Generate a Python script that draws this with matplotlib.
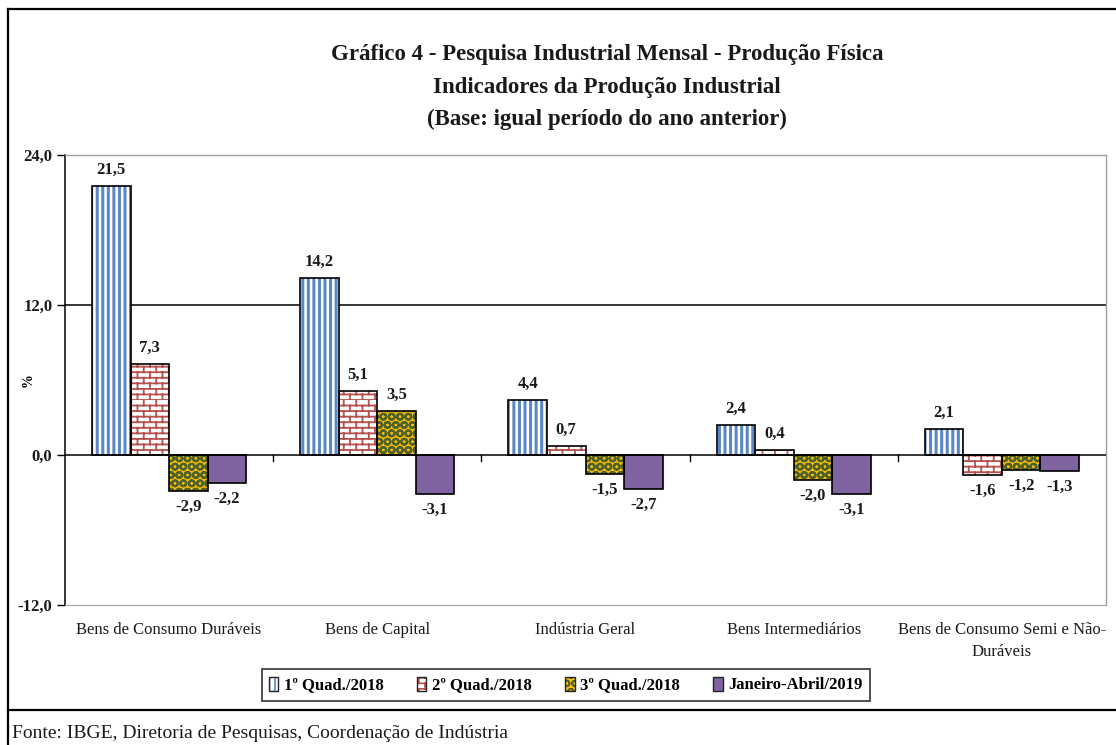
import warnings
warnings.filterwarnings("ignore")
import numpy as np
import matplotlib
matplotlib.use("Agg")
import matplotlib.pyplot as plt
import matplotlib.hatch as mhatch
from matplotlib.path import Path
from matplotlib.lines import Line2D
from matplotlib.patches import Patch, Rectangle
from matplotlib.legend_handler import HandlerBase
import matplotlib.transforms as mtrans

# ---------------- data ----------------
categories = ["Bens de Consumo Duráveis", "Bens de Capital", "Indústria Geral",
              "Bens Intermediários", "Bens de Consumo Semi e Não-\nDuráveis"]
series_names = ["1º Quad./2018", "2º Quad./2018", "3º Quad./2018", "Janeiro-Abril/2019"]
q1_2018 = [21.5, 14.2, 4.4, 2.4, 2.1]
q2_2018 = [7.3, 5.1, 0.7, 0.4, -1.6]
q3_2018 = [-2.9, 3.5, -1.5, -2.0, -1.2]
jan_abr_2019 = [-2.2, -3.1, -2.7, -3.1, -1.3]
y_ticks = [-12.0, 0.0, 12.0, 24.0]
title = ("Gráfico 4 - Pesquisa Industrial Mensal - Produção Física\n"
         "Indicadores da Produção Industrial\n"
         "(Base: igual período do ano anterior)")
source = "Fonte: IBGE, Diretoria de Pesquisas, Coordenação de Indústria"


# ---------------- custom brick hatch ----------------
class BrickHatch(mhatch.HatchPatternBase):
    def __init__(self, hatch, density):
        self.on = hatch.count('b') > 0
        self.rows = 18
        self.cols = 8
        if self.on:
            self.num_vertices = (self.rows + self.rows * self.cols) * 2
        else:
            self.num_vertices = 0

    def set_vertices_and_codes(self, vertices, codes):
        R, C = self.rows, self.cols
        i = 0
        for r in range(R):
            y = r / R
            vertices[i] = (0.0, y); codes[i] = Path.MOVETO; i += 1
            vertices[i] = (1.0, y); codes[i] = Path.LINETO; i += 1
        for r in range(R):
            y0, y1 = r / R, (r + 1) / R
            off = 0.5 * (r % 2)
            for c in range(C):
                x = ((c + off) / C) % 1.0
                vertices[i] = (x, y0); codes[i] = Path.MOVETO; i += 1
                vertices[i] = (x, y1); codes[i] = Path.LINETO; i += 1


mhatch._hatch_types.append(BrickHatch)


class HandlerHatchBox(HandlerBase):
    def create_artists(self, legend, orig_handle, xdescent, ydescent, width, height,
                       fontsize, trans):
        fill = Rectangle((-xdescent, -ydescent), width, height,
                         facecolor=orig_handle.get_facecolor(),
                         edgecolor=orig_handle.get_edgecolor(),
                         hatch=orig_handle.get_hatch(), linewidth=0, transform=trans)
        if hasattr(fill, "set_hatch_linewidth"):
            fill.set_hatch_linewidth(1.2)
        edge = Rectangle((-xdescent, -ydescent), width, height, facecolor="none",
                         edgecolor="#222222", linewidth=1.0, transform=trans)
        return [fill, edge]


# ---------------- styles ----------------
faces = ["white", "white", "#FFC000", "#8064A2"]
hatch_cols = ["#5A87C5", "#B5504D", "#4F6228", "#8064A2"]
hatches = ["|||", "b", "OO", None]
hatch_lws = [2.2, 1.3, 1.6, 1.0]

serif = ["Liberation Serif", "DejaVu Serif"]
plt.rcParams["font.family"] = serif

W, H = 1116, 745
fig = plt.figure(figsize=(W / 100, H / 100), dpi=100)
fig.patch.set_facecolor("white")

ax_l, ax_r, ax_t, ax_b = 65, 1106, 155, 605
ax = fig.add_axes([ax_l / W, 1 - ax_b / H, (ax_r - ax_l) / W, (ax_b - ax_t) / H])

x = np.arange(len(categories))
bw = 0.185
all_series = [q1_2018, q2_2018, q3_2018, jan_abr_2019]

handles = []
for k, vals in enumerate(all_series):
    xs = x + (k - 1.5) * bw
    bars = ax.bar(xs, vals, width=bw, color=faces[k], edgecolor=hatch_cols[k],
                  linewidth=0, hatch=hatches[k], zorder=3)
    for b in bars:
        if hasattr(b, "set_hatch_linewidth"):
            b.set_hatch_linewidth(hatch_lws[k])
    ax.bar(xs, vals, width=bw, facecolor="none", edgecolor="black",
           linewidth=1.2, zorder=4)
    handles.append(Patch(facecolor=faces[k], edgecolor=hatch_cols[k], hatch=hatches[k]))
    for xi, v in zip(xs, vals):
        lab = f"{v:.1f}".replace(".", ",")
        off = 11.5 if v >= 0 else -11.5
        ax.annotate(lab, (xi, v), xytext=(0, off), textcoords="offset points",
                    ha="center", va="center", fontsize=12, fontweight="bold",
                    color="#1a1a1a", zorder=5)

ax.set_xlim(-0.5, len(categories) - 0.5)
ax.set_ylim(-12, 24)
ax.set_yticks(y_ticks)
ax.set_yticklabels([f"{t:.1f}".replace(".", ",") for t in y_ticks],
                   fontsize=12, fontweight="bold", color="#1a1a1a")
ax.tick_params(axis="y", direction="out", length=6, width=1, pad=3)
ax.set_ylabel("%", fontsize=10, fontweight="bold")
ax.yaxis.set_label_coords((35 - ax_l) / (ax_r - ax_l), 0.5)

# gridlines
ax.axhline(12, color="black", linewidth=1.1, zorder=1)
ax.axhline(0, color="black", linewidth=1.1, zorder=5)

for s in ["top", "right"]:
    ax.spines[s].set_color("#A0A0A0")
    ax.spines[s].set_linewidth(1.0)
ax.spines["bottom"].set_color("#A0A0A0")
ax.spines["left"].set_color("black")
ax.spines["left"].set_linewidth(1.1)

# category separator ticks on zero line
ax.set_xticks([])
for b in np.arange(0.5, len(categories) - 0.5, 1.0):
    ax.plot([b, b], [0, -0.45], color="black", linewidth=1, zorder=5, clip_on=False)

# category labels
trans = mtrans.blended_transform_factory(ax.transData, ax.transAxes)
for xi, c in zip(x, categories):
    ax.annotate(c, (xi, 0), xycoords=trans, xytext=(0, -12), textcoords="offset points",
                ha="center", va="top", fontsize=12, linespacing=1.5, color="#1a1a1a")

# title
fig.text(607 / W, 1 - 44 / H, title, ha="center", va="top", fontsize=16.5,
         fontweight="bold", linespacing=1.72, color="#1a1a1a")

# legend
leg = fig.legend(handles, series_names, loc="center", bbox_to_anchor=(566 / W, 1 - 685 / H),
                 ncol=4, frameon=True, fancybox=False, edgecolor="black",
                 handlelength=0.55, handleheight=0.95, handletextpad=0.35,
                 columnspacing=2.0, borderpad=0.45,
                 handler_map={Patch: HandlerHatchBox()},
                 prop={"family": serif, "weight": "bold", "size": 12})
leg.get_frame().set_linewidth(1.2)

# figure frame lines
lw = 1.6
fig.add_artist(Line2D([8 / W, 8 / W], [0, 1 - 9 / H], transform=fig.transFigure,
                      color="black", linewidth=lw))
fig.add_artist(Line2D([8 / W, 1], [1 - 9 / H, 1 - 9 / H], transform=fig.transFigure,
                      color="black", linewidth=lw))
fig.add_artist(Line2D([8 / W, 1], [1 - 710 / H, 1 - 710 / H], transform=fig.transFigure,
                      color="black", linewidth=lw))

fig.text(12 / W, 1 - 733 / H, source, ha="left", va="center", fontsize=14,
         color="#1a1a1a")

fig.savefig("out.png", dpi=100, facecolor="white")
